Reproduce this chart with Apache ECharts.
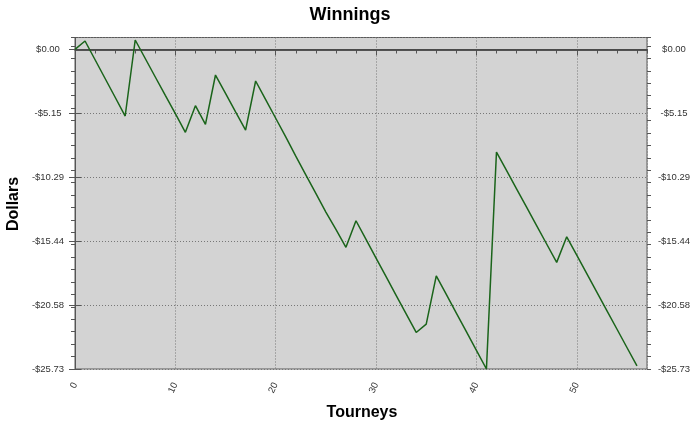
<!DOCTYPE html>
<html>
<head>
<meta charset="utf-8">
<script src="https://cdn.jsdelivr.net/npm/echarts@6/dist/echarts.min.js"></script>
<style>
html,body{margin:0;padding:0;background:#fff;}
#chart{width:700px;height:424px;}
</style>
</head>
<body>
<div id="chart"></div>
<script>
// Data
var tourneys = [0,1,2,3,4,5,6,7,8,9,10,11,12,13,14,15,16,17,18,19,20,21,22,23,24,25,26,27,28,29,30,31,32,33,34,35,36,37,38,39,40,41,42,43,44,45,46,47,48,49,50,51,52,53,54,55,56];
var winnings = [0.00,0.67,-0.84,-2.35,-3.86,-5.37,0.75,-0.74,-2.23,-3.71,-5.17,-6.68,-4.54,-6.04,-2.07,-3.55,-5.03,-6.50,-2.55,-4.05,-5.55,-7.05,-8.60,-10.10,-11.60,-13.10,-14.50,-15.94,-13.80,-15.30,-16.80,-18.30,-19.80,-21.30,-22.79,-22.12,-18.23,-19.73,-21.23,-22.73,-24.23,-25.73,-8.27,-9.75,-11.23,-12.71,-14.19,-15.67,-17.15,-15.09,-16.57,-18.06,-19.54,-21.03,-22.51,-24.00,-25.48];
var yTickLabels = ['-$25.73','-$20.58','-$15.44','-$10.29','-$5.15','$0.00'];
var xTickLabels = ['0','10','20','30','40','50'];
var chartTitle = 'Winnings';
var xTitle = 'Tourneys';
var yTitle = 'Dollars';

var yMin = -25.73, yMax = 0.95, yStep = 5.146;
var xMin = 0, xMax = 57;

function yFmt(v){
  var idx = Math.round((v - yMin) / yStep);
  if (Math.abs(v - (yMin + idx*yStep)) < 0.01 && idx >= 0 && idx < yTickLabels.length) return yTickLabels[idx];
  return '';
}
function xFmt(v){
  var idx = Math.round(v/10);
  if (Math.abs(v - idx*10) < 0.01 && idx < xTickLabels.length) return xTickLabels[idx];
  return '';
}

var font = 'Arial, "Liberation Sans", sans-serif';
var axisColor = '#555';
var chart = echarts.init(document.getElementById('chart'), null, {renderer:'canvas'});

var pts = tourneys.map(function(t,i){return [t, winnings[i]];});

var option = {
  animation:false,
  backgroundColor:'#fff',
  grid:{left:75, right:53, top:37.5, bottom:55, show:true, backgroundColor:'#d3d3d3', borderColor:'#5a5a5a', borderWidth:1},
  graphic:[
    {type:'text', left:'center', top:6, style:{text:chartTitle, font:'bold 18px '+font, fill:'#000'}},
    {type:'text', x:362, y:413, style:{text:xTitle, font:'bold 16px '+font, fill:'#000', textAlign:'center', textVerticalAlign:'middle'}},
    {type:'text', x:14, y:204, rotation:Math.PI/2, style:{text:yTitle, font:'bold 16px '+font, fill:'#000', textAlign:'center', textVerticalAlign:'middle'}}
  ],
  xAxis:[
    {type:'value', position:'bottom', min:xMin, max:xMax, interval:10,
     axisLine:{show:true, lineStyle:{color:axisColor}},
     axisTick:{show:true, length:6, lineStyle:{color:axisColor}},
     axisLabel:{show:true, formatter:xFmt, showMaxLabel:false, rotate:65, margin:14, color:'#333', fontSize:9.5, fontFamily:font},
     splitLine:{show:true, lineStyle:{color:'#777', type:[1,2], width:1}}},
    {type:'value', position:'bottom', min:xMin, max:xMax, interval:2,
     axisLine:{show:false}, axisTick:{show:true, length:4, lineStyle:{color:axisColor}},
     axisLabel:{show:false}, splitLine:{show:false}},
    {type:'value', position:'top', min:xMin, max:xMax, interval:2,
     axisLine:{show:true, lineStyle:{color:'#4a4a4a', width:1.5}}, axisTick:{show:true, inside:true, length:4, lineStyle:{color:axisColor}},
     axisLabel:{show:false}, splitLine:{show:false}}
  ],
  yAxis:[
    {type:'value', position:'left', min:yMin, max:yMax, interval:yStep,
     axisLine:{show:true, lineStyle:{color:axisColor}},
     axisTick:{show:true, length:6, lineStyle:{color:axisColor}},
     axisLabel:{show:true, formatter:yFmt, showMaxLabel:false, margin:27, align:'center', color:'#333', fontSize:9.5, fontFamily:font},
     splitLine:{show:true, lineStyle:{color:'#777', type:[1,2], width:1}}},
    {type:'value', position:'left', min:yMin, max:yMax, interval:1,
     axisLine:{show:false}, axisTick:{show:true, length:4, lineStyle:{color:axisColor}},
     axisLabel:{show:false}, splitLine:{show:false}},
    {type:'value', position:'right', min:yMin, max:yMax, interval:yStep,
     axisLine:{show:true, lineStyle:{color:axisColor}},
     axisTick:{show:true, length:6, lineStyle:{color:axisColor}},
     axisLabel:{show:true, formatter:yFmt, showMaxLabel:false, margin:27, align:'center', color:'#333', fontSize:9.5, fontFamily:font},
     splitLine:{show:false}},
    {type:'value', position:'right', min:yMin, max:yMax, interval:1,
     axisLine:{show:false}, axisTick:{show:true, length:4, lineStyle:{color:axisColor}},
     axisLabel:{show:false}, splitLine:{show:false}}
  ],
  series:[
    {type:'line', xAxisIndex:0, yAxisIndex:0, data:pts, showSymbol:false, symbol:'none',
     lineStyle:{color:'#1a641a', width:1.5}, z:5,
     markLine:{silent:true, symbol:'none', label:{show:false},
       lineStyle:{color:'#4a4a4a', type:'solid', width:1.5},
       data:[{yAxis:0}]}}
  ]
};
chart.setOption(option);
</script>
</body>
</html>
